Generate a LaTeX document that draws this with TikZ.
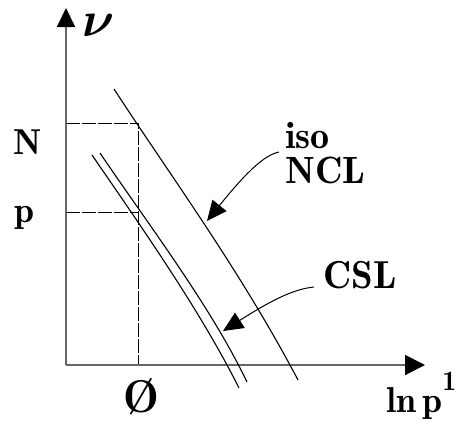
\documentclass[tikz,border=0pt]{standalone}
\usepackage{amsmath}
\usetikzlibrary{arrows.meta}
\newcommand\fLbl{\fontseries{b}\selectfont\fontsize{19}{19}\selectfont}
\newcommand\fAx{\fontseries{b}\selectfont\fontsize{18}{18}\selectfont}
\newcommand\fNu{\fontsize{33}{33}\selectfont}
\newcommand\fZero{\fontseries{b}\selectfont\fontsize{23}{23}\selectfont}
\newcommand\fCsl{\fontseries{b}\selectfont\fontsize{19.5}{19.5}\selectfont}
\newcommand\fLn{\fontseries{b}\selectfont\fontsize{18}{18}\selectfont}
\newcommand\fSup{\fontseries{b}\selectfont\fontsize{14}{14}\selectfont}
\begin{document}
\begin{tikzpicture}[x=0.5pt,y=-0.5pt,
  axis/.style={line width=1pt, draw=black!60},
  thincurve/.style={line width=0.55pt, draw=black},
  guide/.style={line width=0.5pt, dash pattern=on 7pt off 1pt},
  pointer/.style={line width=0.5pt, -{Triangle[length=10pt,width=9pt]}},
  lbl/.style={inner sep=0pt, font=\fLbl}]
\useasboundingbox (0,0) rectangle (464,424);
% axes and guides
\coordinate (O) at (66,365);
\coordinate (ytip) at (66,8);
\coordinate (xtip) at (425,365);
\coordinate (Nl) at (66,123);
\coordinate (pl) at (66,212);
\coordinate (NX) at (138,123);
\coordinate (pX) at (138,212);
\coordinate (zX) at (138,365);
\draw[guide] (Nl) -- (NX) -- (zX);
\draw[guide] (pl) -- (pX);
\draw[axis, -{Triangle[length=9.5pt,width=9pt,color=black]}] (O) -- (ytip);
\draw[axis, -{Triangle[length=10pt,width=10pt,color=black]}] (O) -- (xtip);
% curves
\draw[thincurve] (114,89) .. controls (170,175) and (240,270) .. (298,380);
\draw[thincurve] (92,155) .. controls (140,225) and (200,310) .. (239,388);
\draw[thincurve] (100,153) .. controls (148,224) and (210,305) .. (247,382);
% labels
\node[lbl, font=\fNu] (nu) at (99,25) {$\boldsymbol{\nu}$};
\node[lbl, font=\fAx] (N) at (27.5,142) {N};
\node[lbl, font=\fAx, anchor=base] (p) at (25,222) {p};
\node[lbl, font=\fZero] (zero) at (141,397) {\O};
\node[lbl, anchor=base west] (iso) at (285,148) {iso};
\node[lbl, anchor=base west] (NCL) at (285,183) {NCL};
\node[lbl, anchor=base west, font=\fCsl] (CSL) at (323,288) {CSL};
\node[lbl, anchor=base west, font=\fLn] (lnp) at (386,412) {ln\,p\raisebox{11pt}{\fSup 1}};
% pointers
\coordinate (isoS) at (279,152);
\coordinate (isoT) at (207,221);
\coordinate (cslS) at (314,287);
\coordinate (cslT) at (223,331);
\draw[pointer] (isoS) .. controls (265,155) and (248,170) .. (isoT);
\draw[pointer] (cslS) .. controls (295,289) and (275,298) .. (cslT);
\end{tikzpicture}
\end{document}
